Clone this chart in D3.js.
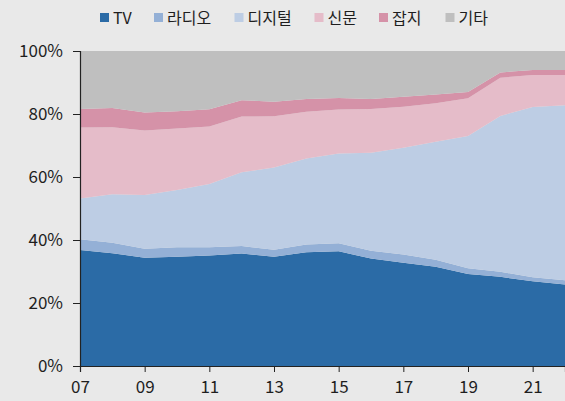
<!DOCTYPE html>
<html>
<head>
<meta charset="utf-8">
<script src="https://cdn.jsdelivr.net/npm/d3@7/dist/d3.min.js"></script>
<style>
  html, body { margin: 0; padding: 0; background: #e9e9e9; }
  svg { display: block; }
  text { font-family: "Noto Sans CJK KR", "Noto Sans", sans-serif; fill: #1e1e1e; }
</style>
</head>
<body>
<svg id="chart" width="565" height="401"></svg>
<script>
// Media advertising share by year (%)
const years = [2007, 2008, 2009, 2010, 2011, 2012, 2013, 2014, 2015, 2016, 2017, 2018, 2019, 2020, 2021, 2022];
const tv        = [36.8, 35.8, 34.4, 34.7, 35.1, 35.7, 34.7, 36.1, 36.4, 34.1, 32.8, 31.5, 29.2, 28.3, 26.9, 25.9];
const radio     = [3.4, 3.3, 2.8, 3.0, 2.6, 2.4, 2.2, 2.5, 2.6, 2.5, 2.6, 2.2, 1.8, 1.6, 1.3, 1.3];
const digital   = [13.0, 15.4, 17.1, 18.2, 20.1, 23.4, 26.1, 27.3, 28.5, 31.1, 33.9, 37.5, 42.0, 49.5, 54.0, 55.6];
const newspaper = [22.5, 21.3, 20.5, 19.5, 18.2, 17.7, 16.3, 14.8, 13.9, 13.9, 13.0, 12.2, 12.0, 12.1, 10.2, 9.6];
const magazine  = [5.9, 6.1, 5.7, 5.5, 5.5, 5.2, 4.6, 4.1, 3.7, 3.2, 3.2, 2.8, 2.0, 1.7, 1.6, 1.6];
const other     = [18.4, 18.1, 19.5, 19.1, 18.5, 15.6, 16.1, 15.2, 14.9, 15.2, 14.5, 13.8, 13.0, 6.8, 6.0, 6.0];

const seriesNames = ["TV", "라디오", "디지털", "신문", "잡지", "기타"];
const seriesValues = [tv, radio, digital, newspaper, magazine, other];
const seriesColors = ["#2b6ba6", "#94b0d6", "#bdcde4", "#e5bcc9", "#d592a8", "#bfbfbf"];
const xTickYears = [2007, 2009, 2011, 2013, 2015, 2017, 2019, 2021];
const yTicks = [0, 20, 40, 60, 80, 100];

const svg = d3.select("#chart");
const margin = { left: 80, right: 0, top: 51, bottom: 35 };
const W = 565, H = 401;

const x = d3.scaleLinear().domain([2007, 2022]).range([margin.left, W - margin.right]);
const y = d3.scaleLinear().domain([0, 100]).range([H - margin.bottom, margin.top]);

const table = years.map((yr, i) => {
  const row = { year: yr };
  seriesNames.forEach((n, k) => { row[n] = seriesValues[k][i]; });
  return row;
});

const stack = d3.stack().keys(seriesNames);
const layers = stack(table);

const area = d3.area()
  .x(d => x(d.data.year))
  .y0(d => y(d[0]))
  .y1(d => y(d[1]));

svg.append("g")
  .selectAll("path")
  .data(layers)
  .join("path")
  .attr("d", area)
  .attr("fill", (d, i) => seriesColors[i]);

// Y axis
const yAxis = svg.append("g")
  .attr("transform", `translate(${margin.left},0)`)
  .call(d3.axisLeft(y).tickValues(yTicks).tickFormat(d => d + "%").tickSize(7).tickPadding(10));
yAxis.select(".domain").attr("stroke", "#222").attr("stroke-width", 1.2);
yAxis.selectAll(".tick line").attr("stroke", "#222");
yAxis.selectAll("text").attr("font-size", 17).attr("fill", "#1e1e1e");

// X axis
const xAxis = svg.append("g")
  .attr("transform", `translate(0,${y(0)})`)
  .call(d3.axisBottom(x).tickValues(xTickYears).tickFormat(d => String(d).slice(2)).tickSize(6).tickPadding(9));
xAxis.select(".domain").attr("stroke", "#222").attr("stroke-width", 1.2);
xAxis.selectAll(".tick line").attr("stroke", "#222");
xAxis.selectAll("text").attr("font-size", 17).attr("fill", "#1e1e1e");

// Legend
const legendX = [100, 154, 234.5, 314.5, 379, 445.5];
const legend = svg.append("g");
seriesNames.forEach((n, i) => {
  const g = legend.append("g").attr("transform", `translate(${legendX[i]},0)`);
  g.append("rect").attr("x", 0).attr("y", 13).attr("width", 9).attr("height", 9).attr("fill", seriesColors[i]);
  g.append("text").attr("x", 13).attr("y", 18).attr("dy", "0.35em")
    .attr("font-size", 16).text(n);
});
</script>
</body>
</html>
